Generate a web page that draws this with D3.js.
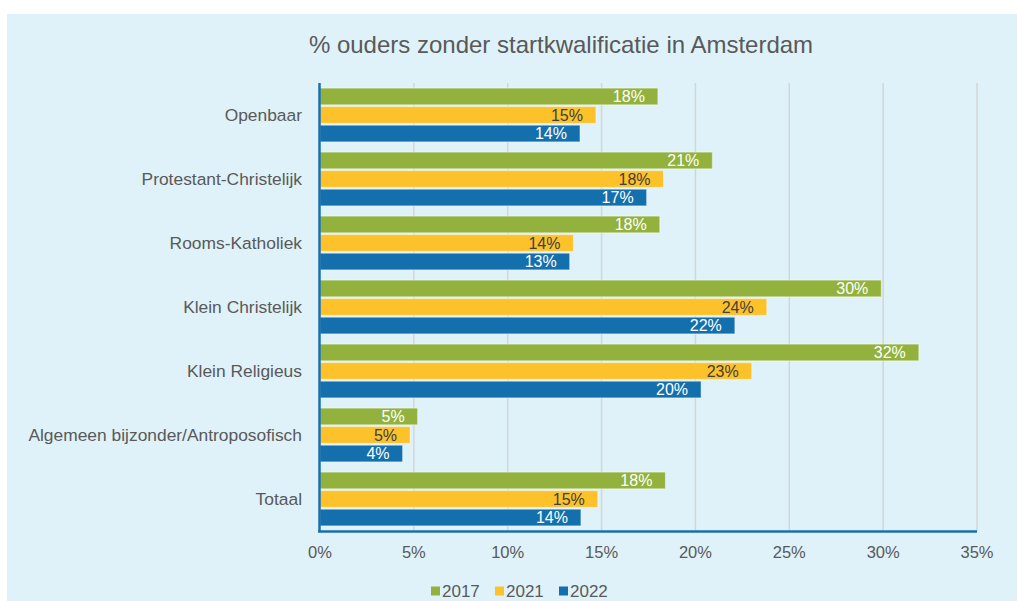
<!DOCTYPE html>
<html>
<head>
<meta charset="utf-8">
<script src="https://cdn.jsdelivr.net/npm/d3@7"></script>
<style>
  body { margin: 0; background: #fff; }
  svg { display: block; font-family: "Liberation Sans", Arial, sans-serif; }
</style>
</head>
<body>
<svg id="chart" width="1017" height="601"></svg>
<script>
const categories = ["Openbaar", "Protestant-Christelijk", "Rooms-Katholiek", "Klein Christelijk", "Klein Religieus", "Algemeen bijzonder/Antroposofisch", "Totaal"];
const seriesNames = ["2017", "2021", "2022"];
const values2017 = [18.0, 20.9, 18.1, 29.9, 31.9, 5.2, 18.4];
const values2021 = [14.7, 18.3, 13.5, 23.8, 23.0, 4.8, 14.8];
const values2022 = [13.85, 17.4, 13.3, 22.1, 20.3, 4.4, 13.9];
const xTicks = [0, 5, 10, 15, 20, 25, 30, 35];
const colors = ["#92b23d", "#fdc12a", "#1470ad"];

const seriesValues = [values2017, values2021, values2022];

const svg = d3.select("#chart");
const W = 1017, H = 601;

// background panel
svg.append("rect")
    .attr("x", 7).attr("y", 14)
    .attr("width", W - 7).attr("height", H - 14)
    .attr("fill", "#dff2fa");

svg.append("text")
    .attr("x", 561).attr("y", 53)
    .attr("text-anchor", "middle")
    .attr("font-size", 24)
    .attr("fill", "#595959")
    .text("% ouders zonder startkwalificatie in Amsterdam");

const xScale = d3.scaleLinear().domain([0, 35]).range([320, 977]);
const yScale = d3.scaleBand().domain(categories).range([83, 531]).paddingInner(0.16).paddingOuter(0.08);
const ySub = d3.scaleBand().domain(seriesNames).range([0, yScale.bandwidth()]).paddingInner(0.1);

// gridlines
svg.append("g").selectAll("line")
    .data(xTicks.filter(d => d > 0))
    .join("line")
    .attr("x1", d => xScale(d)).attr("x2", d => xScale(d))
    .attr("y1", 83).attr("y2", 531)
    .attr("stroke", "#d2d6d8").attr("stroke-width", 1.5);

// bars
const group = svg.append("g").selectAll("g")
    .data(categories)
    .join("g")
    .attr("transform", d => `translate(0, ${yScale(d)})`);

group.selectAll("rect")
    .data((c, i) => seriesNames.map((s, j) => ({ series: s, j, value: seriesValues[j][i] })))
    .join("rect")
    .attr("x", xScale(0))
    .attr("y", d => ySub(d.series))
    .attr("width", d => xScale(d.value) - xScale(0))
    .attr("height", ySub.bandwidth())
    .attr("fill", d => colors[d.j])
    .attr("stroke", "rgba(255,255,255,0.45)")
    .attr("stroke-width", 1);

group.selectAll("text")
    .data((c, i) => seriesNames.map((s, j) => ({ series: s, j, value: seriesValues[j][i] })))
    .join("text")
    .attr("x", d => xScale(d.value) - 13)
    .attr("y", d => ySub(d.series) + ySub.bandwidth() / 2)
    .attr("dy", "0.36em")
    .attr("text-anchor", "end")
    .attr("font-size", 16)
    .attr("fill", d => d.j === 1 ? "#404040" : "#ffffff")
    .text(d => Math.round(d.value) + "%");

// category labels
svg.append("g").selectAll("text")
    .data(categories)
    .join("text")
    .attr("x", 302)
    .attr("y", d => yScale(d) + yScale.bandwidth() / 2)
    .attr("dy", "0.36em")
    .attr("text-anchor", "end")
    .attr("font-size", 17.4)
    .attr("fill", "#595959")
    .text(d => d);

// axes lines
svg.append("line")
    .attr("x1", 319.5).attr("x2", 319.5)
    .attr("y1", 83).attr("y2", 532)
    .attr("stroke", "#1a6faa").attr("stroke-width", 2.5);
svg.append("line")
    .attr("x1", 318).attr("x2", 977)
    .attr("y1", 531.5).attr("y2", 531.5)
    .attr("stroke", "#1a6faa").attr("stroke-width", 2.5);

// x tick labels
svg.append("g").selectAll("text")
    .data(xTicks)
    .join("text")
    .attr("x", d => xScale(d))
    .attr("y", 552)
    .attr("dy", "0.36em")
    .attr("text-anchor", "middle")
    .attr("font-size", 16.5)
    .attr("fill", "#595959")
    .text(d => d + "%");

// legend
const legendX = [431, 495, 559];
const legend = svg.append("g").selectAll("g")
    .data(seriesNames)
    .join("g")
    .attr("transform", (d, i) => `translate(${legendX[i]}, 591)`);
legend.append("rect")
    .attr("x", 0).attr("y", -4.5)
    .attr("width", 9).attr("height", 9)
    .attr("fill", (d, i) => colors[i]);
legend.append("text")
    .attr("x", 11).attr("y", 0)
    .attr("dy", "0.36em")
    .attr("font-size", 17)
    .attr("fill", "#595959")
    .text(d => d);
</script>
</body>
</html>
